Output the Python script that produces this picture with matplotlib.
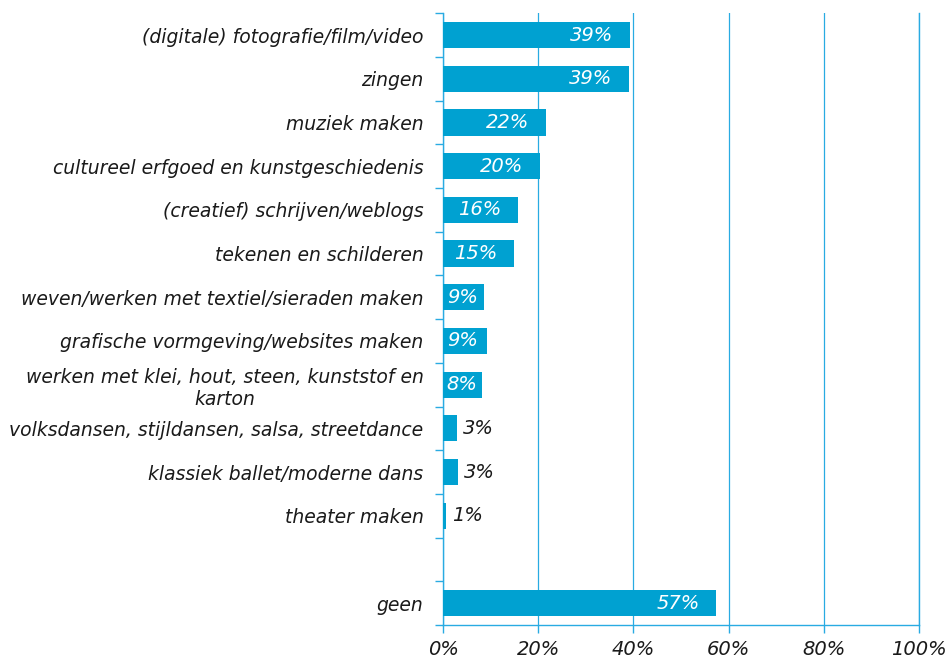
import numpy as np
import matplotlib
matplotlib.use('Agg')
import matplotlib.pyplot as plt
from matplotlib.ticker import FixedLocator

categories = [
    "(digitale) fotografie/film/video",
    "zingen",
    "muziek maken",
    "cultureel erfgoed en kunstgeschiedenis",
    "(creatief) schrijven/weblogs",
    "tekenen en schilderen",
    "weven/werken met textiel/sieraden maken",
    "grafische vormgeving/websites maken",
    "werken met klei, hout, steen, kunststof en\nkarton",
    "volksdansen, stijldansen, salsa, streetdance",
    "klassiek ballet/moderne dans",
    "theater maken",
    "",
    "geen",
]
values = [39.3, 39.1, 21.6, 20.4, 15.8, 14.9, 8.6, 9.2, 8.2, 2.9, 3.2, 0.6, None, 57.4]
labels = ["39%", "39%", "22%", "20%", "16%", "15%", "9%", "9%", "8%", "3%", "3%", "1%", "", "57%"]
xticks = [0, 20, 40, 60, 80, 100]

bar_col = '#00a1d1'
line_col = '#29abe2'
txt_col = '#1a1a1a'

plt.rcParams['font.family'] = ['DejaVu Sans']
fig = plt.figure(figsize=(9.49, 6.6), dpi=100)
ax = fig.add_axes([0.4668, 0.053, 0.5016, 0.927])

pos = np.arange(len(categories))
for p, v, lab in zip(pos, values, labels):
    if v is None:
        continue
    ax.barh(p, v, height=0.6, color=bar_col, zorder=3)
    if v >= 14:
        ax.text(v - 3.5, p, lab, ha='right', va='center', color='white',
                fontsize=14, style='italic', zorder=4)
    elif v >= 6:
        ax.text(0.8, p, lab, ha='left', va='center', color='white',
                fontsize=14, style='italic', zorder=4)
    else:
        ax.text(v + 1.2, p, lab, ha='left', va='center', color=txt_col,
                fontsize=14, style='italic', zorder=4)

ax.set_xlim(0, 100)
ax.set_ylim(len(categories) - 0.5, -0.5)
ax.set_xticks(xticks)
ax.set_xticklabels([f"{t}%" for t in xticks], fontsize=14, style='italic', color=txt_col)
ax.grid(axis='x', color=line_col, linewidth=0.9, zorder=0)

# y: boundary ticks (major), labels at centres (minor)
ax.yaxis.set_major_locator(FixedLocator(np.arange(len(categories) + 1) - 0.5))
ax.set_yticklabels([])
ax.yaxis.set_minor_locator(FixedLocator(pos))
ax.set_yticklabels(categories, minor=True, fontsize=13.5, style='italic',
                   color=txt_col, multialignment='center')
ax.tick_params(axis='y', which='minor', length=0, pad=14)
ax.tick_params(axis='y', which='major', length=6, color=line_col, width=1)
ax.tick_params(axis='x', length=6, color=line_col, width=1, pad=5)

ax.spines['top'].set_visible(False)
for s in ['left', 'bottom', 'right']:
    ax.spines[s].set_color(line_col)
    ax.spines[s].set_linewidth(1)

fig.savefig('out.png', dpi=100)
